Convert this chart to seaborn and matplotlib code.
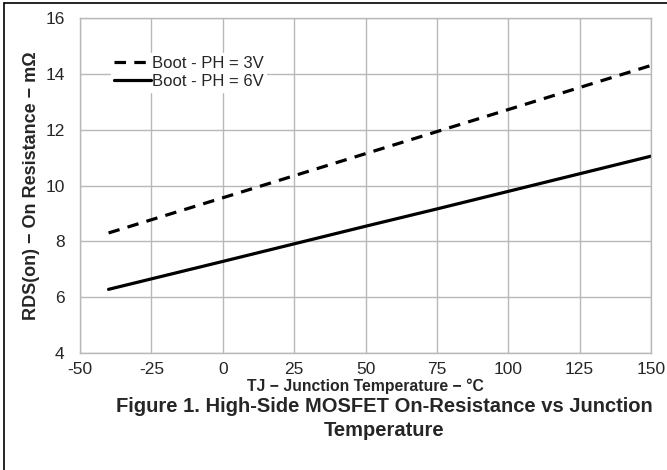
import numpy as np
import pandas as pd
import matplotlib
matplotlib.use('Agg')
import matplotlib.pyplot as plt
import seaborn as sns
from matplotlib.lines import Line2D

# --- data ---
temps = [-40, 0, 25, 50, 75, 100, 125, 150]
rds_3v = [8.30, 9.56, 10.35, 11.14, 11.93, 12.72, 13.51, 14.30]
rds_6v = [6.28, 7.28, 7.91, 8.54, 9.16, 9.79, 10.42, 11.05]
series_names = ['Boot - PH = 3V', 'Boot - PH = 6V']

x_ticks = [-50, -25, 0, 25, 50, 75, 100, 125, 150]
y_ticks = [4, 6, 8, 10, 12, 14, 16]

df = pd.DataFrame({
    'temp': temps * 2,
    'rds': rds_3v + rds_6v,
    'series': [series_names[0]] * len(temps) + [series_names[1]] * len(temps),
})

sns.set_theme(style='white')
plt.rcParams['font.family'] = ['Liberation Sans', 'DejaVu Sans']

W, H = 667, 470
fig = plt.figure(figsize=(W / 100, H / 100), dpi=100)
ax = fig.add_axes([80 / W, 1 - 353 / H, 571 / W, 335 / H])

dash = (3.6, 2.6)
sns.lineplot(data=df, x='temp', y='rds', hue='series', style='series',
             palette=['black', 'black'], dashes={series_names[0]: dash, series_names[1]: ''},
             linewidth=2.3, ax=ax, legend=False)

ax.set_xlim(-50, 150)
ax.set_ylim(4, 16)
ax.set_xticks(x_ticks)
ax.set_yticks(y_ticks)
ax.set_xticklabels([str(t) for t in x_ticks], fontsize=12.5)
ax.set_yticklabels([str(t) for t in y_ticks], fontsize=12.5)
ax.tick_params(axis='x', length=0, pad=6.5)
ax.tick_params(axis='y', length=0, pad=11)
ax.grid(True, color='#b8b8b8', linewidth=1)
for s in ax.spines.values():
    s.set_color('#b8b8b8')
    s.set_linewidth(1)

ax.set_xlabel('TJ − Junction Temperature − °C', fontsize=11.3, fontweight='bold', labelpad=1)
ax.set_ylabel('RDS(on) − On Resistance − mΩ', fontsize=13, fontweight='bold', labelpad=4)

handles = [Line2D([], [], color='black', linewidth=2.3, dashes=dash),
           Line2D([], [], color='black', linewidth=2.3)]
leg = ax.legend(handles, series_names, loc='upper left', bbox_to_anchor=(0.055, 0.895),
                frameon=True, fontsize=12, handlelength=2.2, handletextpad=0.1,
                labelspacing=0.2, borderpad=0.15, borderaxespad=0)
leg.get_frame().set_edgecolor('white')
leg.get_frame().set_facecolor('white')
leg.get_frame().set_alpha(1)

cap_x = 384 / W
fig.text(cap_x, 1 - 407 / H, 'Figure 1. High-Side MOSFET On-Resistance vs Junction',
         ha='center', va='center', fontsize=14.5, fontweight='bold')
fig.text(cap_x, 1 - 430 / H, 'Temperature',
         ha='center', va='center', fontsize=14.5, fontweight='bold')

# frame line along the top and left edge of the page
fig.add_artist(Line2D([4 / W, 4 / W], [0, 1 - 3 / H], color='black', linewidth=1.2,
                      transform=fig.transFigure))
fig.add_artist(Line2D([4 / W, 1], [1 - 3 / H, 1 - 3 / H], color='black', linewidth=1.2,
                      transform=fig.transFigure))

fig.savefig('out.png', dpi=100)
